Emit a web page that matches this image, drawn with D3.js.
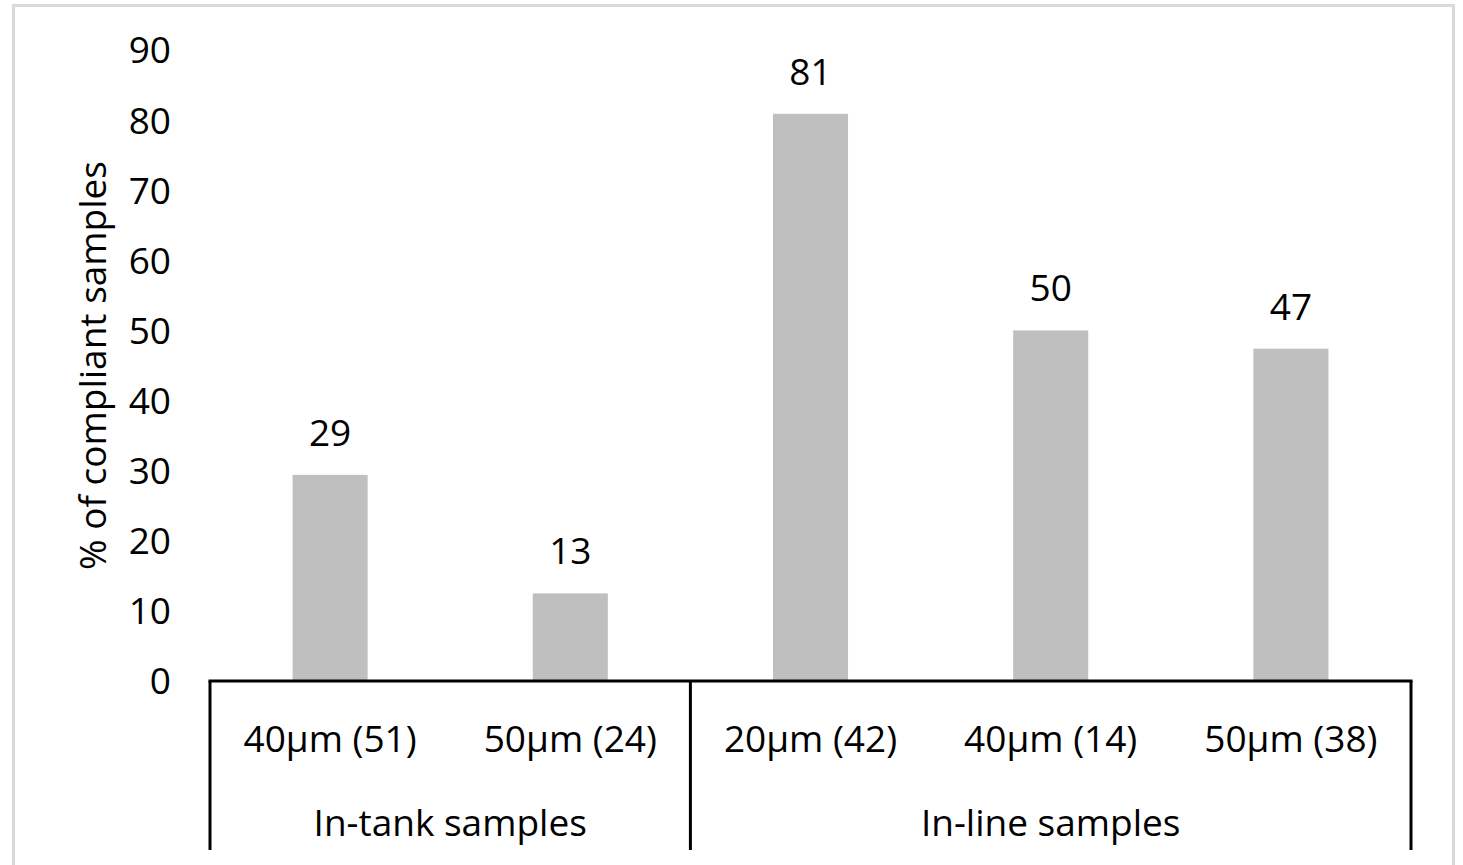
<!DOCTYPE html>
<html><head><meta charset="utf-8">
<script src="https://cdn.jsdelivr.net/npm/d3@7"></script>
<style>body{margin:0;background:#fff}svg{display:block}text{font-family:"Open Sans",sans-serif;fill:#000}</style>
</head><body><svg id="c" width="1463" height="865"></svg>
<script>
(function(){
const categories = ["40µm (51)", "50µm (24)", "20µm (42)", "40µm (14)", "50µm (38)"];
const values = [29.4, 12.5, 80.9, 50, 47.4];
const valueLabels = ["29", "13", "81", "50", "47"];
const groups = ["In-tank samples", "In-line samples"];
const groupCounts = [2, 3];
const yTicks = [0, 10, 20, 30, 40, 50, 60, 70, 80, 90];

const svg = d3.select("#c");
svg.append("rect").attr("x", 13.5).attr("y", 5.5).attr("width", 1440).attr("height", 900)
  .attr("fill", "none").attr("stroke", "#d9d9d9").attr("stroke-width", 3);

const pLeft = 210, pRight = 1411, pTop = 50, base = 681;
const x = d3.scaleBand().domain(categories.map((d, i) => i)).range([pLeft, pRight]).paddingInner(0).paddingOuter(0);
const y = d3.scaleLinear().domain([0, 90]).range([base, pTop]);
const fs = 37;
const bw = x.bandwidth() * 0.3125;

svg.selectAll("rect.bar").data(values).enter().append("rect").attr("class", "bar")
  .attr("x", (d, i) => x(i) + x.bandwidth() / 2 - bw / 2).attr("width", bw)
  .attr("y", d => y(d)).attr("height", d => base - y(d)).attr("fill", "#bfbfbf");

svg.selectAll("text.val").data(values).enter().append("text").attr("class", "val")
  .attr("x", (d, i) => x(i) + x.bandwidth() / 2).attr("y", d => y(d) - 29)
  .attr("text-anchor", "middle").style("font-size", fs + "px").text((d, i) => valueLabels[i]);

const yAxis = d3.axisLeft(y).tickValues(yTicks).tickSize(0).tickPadding(0);
const gy = svg.append("g").attr("transform", `translate(171,0)`).call(yAxis);
gy.select(".domain").remove();
gy.selectAll("text").style("font-size", fs + "px").attr("dy", "0.35em").style("font-family", '"Open Sans",sans-serif').attr("fill", "#000");

svg.append("text").attr("transform", `translate(106,${(pTop + base) / 2}) rotate(-90)`)
  .attr("text-anchor", "middle").style("font-size", fs + "px").text("% of compliant samples");

svg.append("line").attr("x1", pLeft - 1.5).attr("x2", pRight + 1.5).attr("y1", base).attr("y2", base)
  .attr("stroke", "#000").attr("stroke-width", 3);

let idx = 0;
const seps = [0];
groupCounts.forEach(c => { idx += c; seps.push(idx); });
seps.forEach(s => {
  const xx = s < categories.length ? x(s) : x(categories.length - 1) + x.bandwidth();
  svg.append("line").attr("x1", xx).attr("x2", xx).attr("y1", base).attr("y2", 850)
    .attr("stroke", "#000").attr("stroke-width", 3);
});

svg.selectAll("text.cat").data(categories).enter().append("text").attr("class", "cat")
  .attr("x", (d, i) => x(i) + x.bandwidth() / 2).attr("y", 752)
  .attr("text-anchor", "middle").style("font-size", fs + "px").text(d => d);

groups.forEach((g, gi) => {
  const a = seps[gi], b = seps[gi + 1];
  const x0 = x(a), x1 = b < categories.length ? x(b) : pRight;
  svg.append("text").attr("x", (x0 + x1) / 2).attr("y", 836).attr("text-anchor", "middle")
    .style("font-size", fs + "px").text(g);
});
})();
</script></body></html>
